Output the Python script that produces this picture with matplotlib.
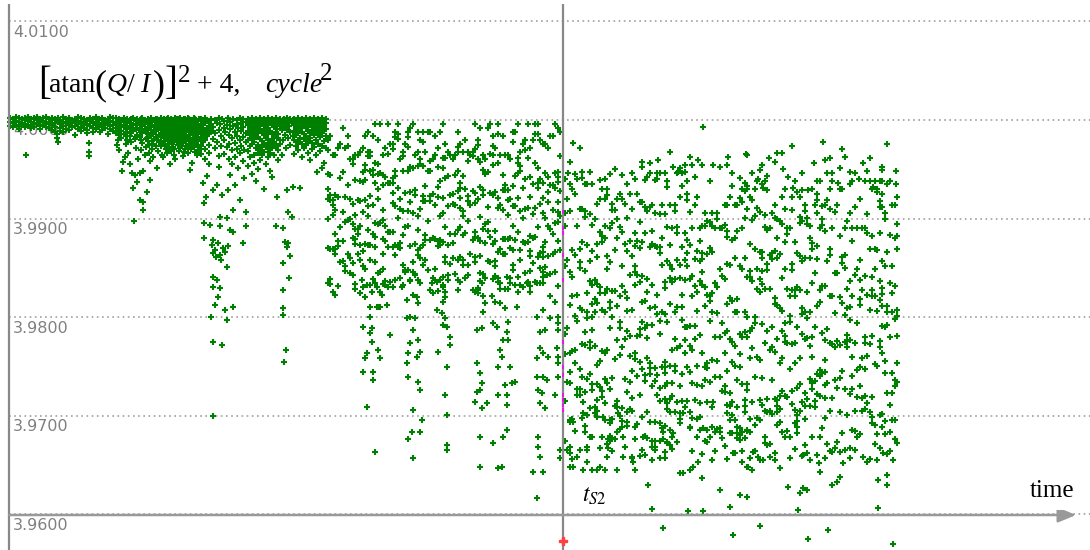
import matplotlib.pyplot as plt
from matplotlib.patches import Rectangle

plt.rcParams['mathtext.fontset'] = 'stix'

# one line per time step "t: d d d", d = drop below 4.0000 in units of 1e-4
early_band = """
10: -2 2 6
13: -1 3 7
16: -3 1 5
19: -2 2 6 9
22: -1 3 5
25: 0 -2 4 7
26: 36
28: -3 1 6
31: -1 2 5 8
34: -2 3 7
37: 0 -3 4
40: -1 2 6 9
43: -2 1 5
46: -3 3 7
49: -1 2 4 8
52: -2 0 5 10
55: -1 3 7 12
57: 14 18
58: -2 1 22
60: 0 4 8 11
63: -3 2 6 12
66: -1 3 9
69: -2 1 5 10
72: 0 3 7
75: -1 2 6 15
78: -3 1 4 9
81: -2 3 7 11
84: -1 2 5 8
87: 0 4 10 13
89: 23 32 37
90: -2 1 6
93: -1 3 8 12
96: -3 2 5 9
99: -1 0 4 7
100: 12
102: -2 3 6 10
105: 0 2 5 8
108: -1 4 14
110: -3 1 6 9
113: -2 2 5 11
118: 1 7 12 20
126: 2 8 16 24
131: -1 6 13 22
136: 1 9 17 28
141: -1 5 12 20 30
146: 2 11 19 27
149: 0 8 25 33
152: 1 13 21 29
156: -1 5 11 17 26
158: 2 9 20 31
162: 0 7 14 23 35
165: 2 11 18 25
167: -1 8 16 33
169: 1 10 20 27
172: 0 5 12 24
174: 3 9 17 29 36
177: -1 7 15 22
179: 1 11 18 31
181: 0 6 13 26
183: 2 9 16 22 37
185: -1 5 12 20 29
187: 1 8 17 27
190: 0 4 11 18 25
193: 2 9 15 23
195: -1 7 13 21 32
198: 1 4 10 17 26
"""

first_dips = """
116: -2 3 8 13
117: 25
119: -1 4 9 15 30
121: 0 5 11 18
122: 52
123: 43
124: -2 2 7 14
125: 38
127: -1 6 12 20
128: 33
130: 0 3 9 16 45
132: 54
133: -2 5 11 69
134: 102
135: 56 19
137: -1 4 8 15 63
138: 40
140: 2 10 17 54 81
142: -2 6 13 23
143: 52 83 91
145: 0 4 9 35
147: 73 18
148: -1 7 14 21
150: 61 42 3
151: -2 5 10 16
153: 38 24
154: 0 7 12 19
157: -1 3 9 49
159: 1 6 15 22
161: -2 4 10 17 26
163: 38 0
164: -1 6 13 21
166: 1 3 9 15 29
168: -2 5 12 19 24
170: 45 0
171: -1 7 14 22 31
173: 2 4 10 18 27
175: 40 -2
176: 0 6 13 20
178: -1 3 9 16 25
180: -2 8 11 19 28
182: 1 5 14 23
184: -1 4 10 17 32
186: 0 7 12 21 26
188: 33 -2
189: -1 3 9 15 24
190: 51
191: 2 6 13 20 29
192: 44
194: -2 5 11 18 27
196: 0 4 8 16 22
197: 25 35
199: -1 6 12 19 30
201: -1 5 11 18 26 34
203: 64 1 8 15 22
204: 84 104 120
205: -2 3 12 20 29 40
206: 78
207: 57 0 9 16
209: 2 6 14 25 33 45
210: 106
211: 200 -1 4 11
212: 127
213: 122 71 135 159 169 225 300 7 19
215: 132 188 0 13 28
216: 139
217: 162 66 3 22
218: 125 180
219: -2 10 37 48
220: 108 137 170 98 4
221: 142 16 26
222: 76 228 -1
223: 130
224: 1 8 20 34
225: 134 193 12
227: 99 149 203 5 27
228: 128 71 -2
229: 15 24 40
230: 112 56 2 9
232: 18 30 45
233: 114 91 190 -1 6
235: 66 12 23 38
237: 0 4 16 29
238: 49 8
240: 81 -2 20 33
241: 3 11 26
243: 125 -1 7 17 42
244: 59 30
246: 108 93 2 13 22
248: -1 5 12 20 31 47
250: 1 8 15 26 38
252: -2 3 10 18 24 55
254: 0 6 14 22 35 44
256: -1 4 11 17 28 62
258: 2 7 13 25 33 50
260: -2 5 9 19 30 41
262: 0 3 12 21 27 36
264: -1 6 15 23 32 70
266: 1 4 10 18 26 45
268: -2 8 14 20 29 38
270: 0 3 11 24 33 52
272: -1 5 13 19 28 58
274: 2 7 16 22 35
276: 108 -2 4 12 26
277: 78 9 18
278: 0 14 30 41
280: -1 6 20 24
282: 3 10 36
283: 110 145 172 191 198 0 8 20
284: 245 -1
285: 124 4 15
286: 233 28
287: 71 129 -2 10
288: 93 125 2 18
289: 160 6
290: 138 -1 12 25
292: 98 3
293: 68 0 16
294: -1 5 11 20 34
296: 1 3 9 15 26
298: -2 6 13 22 30
300: 69 0 4 10 18
302: -1 7 12 24 38
304: 2 5 14 19 28
306: -2 3 8 16 25
308: 0 6 11 21 33
310: 41 -1 4 13 18
312: 1 7 10 23 29
314: -2 3 9 15 27
316: 0 5 12 20 35
317: 53
318: -1 6 14 24
320: 2 4 10 17 31
322: 49 -2 8 13 26
324: 0 5 11 21 44
326: -1 3 9 16 28
"""

mid_cloud = """
328: 20 30 55 70 80 100 130 165
330: 16 56 76 81 131 161 166
333: 36 81 86 96 131
335: 36 76 91 116 131 136
338: 28 78 123 128 168
340: 24 59 109 144
343: 8 53 93 123 143
345: 28 78 103 148 153
348: 16 26 66 101 136
350: 40 80 100 140
353: 40 45 85 105 120 145
355: 36 61 96 111 121 126 166 171
358: 36 81 111 116 136
360: 32 62 82 107 127 142
363: 28 53 63 93 133 148
365: 16 46 51 61 81 126 151
368: 12 32 37 87 97 112 127
370: 32 37 52 77 127 142 167
373: 16 51 56 86 116 161
375: 4 44 64 104 119 129 144
378: 20 45 55 70 80 105 155
380: 4 54 104 154 174
383: 36 56 66 91 101 121 136 151 166
385: 28 58 108 123 163
388: 4 34 64 114 129 169
390: 24 64 114 164
393: 24 29 59 64 74 84 114 129 169
395: 12 17 52 57 87 127 137 162
398: 4 14 19 69 99 129
400: 40 80 90 125 130 160
403: 32 37 52 92 117 147 167
405: 24 74 109 154
408: 12 17 27 52 92 107 152
410: 8 48 73 83 128 163
413: 4 49 94 144 154
415: 36 71 76 126 156
418: 12 32 47 97 112 132 137 162
420: 20 40 45 90 130 140 165
423: 12 22 47 77 82 127 147
425: 32 67 82 117 122 142
428: 12 52 102 152
430: 12 42 52 77 82 122 172
433: 40 75 120 160 175
435: 16 36 86 121 151
438: 28 48 68 78 123 128 173
440: 12 62 97 122 127 162
443: 4 39 49 79 94 124 169
445: 24 39 59 109 139 144 174
448: 32 57 87 127 157 162
450: 36 76 116 146
453: 40 75 85 125 140
455: 36 56 86 116 156
458: 12 27 32 52 72 112 142 162 172
460: 24 64 69 79 89 109 139 164
463: 32 57 92 97 117 142 147
465: 20 70 115 160
468: 32 42 77 82 102 147
470: 36 86 136
473: 32 37 72 122 172
475: 4 29 74 84 114 119 139 144 174
478: 20 25 40 80 120 170 175
480: 8 43 68 98 123 138 163
483: 36 51 71 76 111 156
485: 40 55 105 125 160
488: 8 53 88 103 113 143
490: 4 34 74 119 144
493: 16 26 36 46 76 126 161
495: 28 73 113 123 143 148 158
498: 4 14 44 79 89 134 164
500: 36 86 131 171
503: 16 56 71 91 121 136
505: 36 66 71 121 136 171
508: 36 71 81 96 121 171
510: 40 80 120 130 160
513: 12 22 67 87 107 132 147 152
515: 12 57 87 122 167
518: 4 39 44 54 79 114 159 174
520: 32 47 52 92 132 142 167
523: 24 69 99 124 169
525: 20 30 60 90 125 155
528: 4 39 89 124 164
530: 28 58 78 118 133 138 153 168
533: 20 65 95 120 145
535: 4 14 44 89 119 164
538: 4 14 49 64 69 109 139
540: 20 60 85 135 150 165
543: 24 64 79 94 129 134 139 154 159
545: 24 54 99 124 149
548: 28 58 73 83 108 138
550: 16 66 111 156
553: 16 66 91 116 136
555: 4 54 69 104 134
558: 8 53 58 63 83 93 103 123 168
560: 12 37 72 97 132
"""

# streaks reaching down below the middle cloud
mid_deep = """
333: 174
335: 177
350: 155
353: 157
360: 175
362: 162
363: 169 210 256
365: 180 241
367: 167 236 291
370: 190 200 216
372: 174 211 225
373: 256 264
375: 165 337
377: 169 190
378: 190 233
380: 241 190
382: 177
385: 167
387: 188
390: 218
402: 169
405: 152
407: 183 201 246
408: 236 261 324
410: 162 200 226
412: 316
413: 177 213 294 343
415: 157 201
417: 180 240
418: 186 223 266
420: 235 274 316
422: 304
432: 165
435: 162
437: 164 193
438: 235
442: 196
443: 159 167 185 208
445: 180 201 279
447: 210 251 299 330 335
450: 220 228
468: 157
475: 286
477: 213 276 246
478: 172
480: 155 257 274 322 352
482: 165 211 267 292
483: 179 195
485: 186
487: 287
492: 179
493: 206 328
495: 185
497: 210
498: 160 250 279 353
500: 165 186 233
502: 240 352
503: 223 322
505: 191 269
507: 159 215 279 289 314
508: 205 223
510: 165 250
512: 267
515: 266
517: 190
527: 165
530: 174
533: 357
537: 165 200 241 261 383
538: 274 322 332
540: 215 231 287 342
542: 277
543: 165 193 236 261 357
545: 213 292
547: 157 264
548: 240
550: 179 201
555: 154 185 279
557: 231
558: 261 246 240 213 206 200
560: 335 343
"""

late_noise = """
565: 60 94 107 148 217 237 285 326
567: 80 142 211 266 335
570: 65 92 154 188 236 256 304 338
572: 70 132 159 179 234 303 344
575: 55 75 137 199 233 246 315
577: 60 108 177 204 273 342
580: 90 131 144 150 191 253 273 279
582: 90 124 193 227 261 302
585: 65 92 98 153 215 228 276 310 316
587: 65 127 175 195 201 263 332
590: 95 143 163 225 231 258 292
592: 65 106 133 167 187 200 213 268 274 322
595: 100 162 182 195 229 291 297
597: 85 126 139 166 186 248 268 295 301
600: 80 114 169 175 244 271 333
602: 70 118 124 193 234 275 281 322
605: 60 80 107 120 175 195 236 263 304
607: 70 76 138 151 171 233 267 329 342
610: 55 110 144 185 191 211 273 307 320 326
612: 85 91 104 173 200 262 303 323 336
615: 50 91 132 173 242 290 324
617: 80 100 120 189 223 285
620: 75 109 178 205 211 238 300 313
622: 80 114 148 168 230 292 305 311
625: 85 126 174 222 263 332
627: 65 99 133 181 194 214 276 310
630: 75 123 157 219 239 266 293
632: 90 138 193 255 282 295 343
635: 60 115 128 148 154 167 236 242 311 324
637: 75 123 157 219 260 308
640: 83 103 130 164 212 218 245 279 341
642: 83 124 158 185 205 253 301 335
645: 61 88 115 184 211 259 265 320 340
647: 58 92 161 174 208 221 241 296 323
650: 54 88 129 191 246 252 258 306
652: 86 113 126 167 208 270 332 345
655: 94 128 190 252 265 306 326 332
657: 54 60 129 177 197 259 279
660: 54 95 129 135 204 217 272 285 326
662: 86 120 147 195 250 312
665: 54 95 164 170 197 245 251 257 270 283 310 337 343
667: 62 68 109 143 205 267 287 293 327
670: 86 127 147 160 187 249 283 296 330
672: 110 151 164 233 267 280 321 334
675: 86 92 161 195 222 249 255 296
677: 54 109 115 142 190 231 286 327
680: 78 147 160 229 270 297 303
682: 54 67 129 177 190 203 258 285
685: 46 115 142 162 210 223 236 291
687: 62 75 81 122 135 148 210 251 285
690: 38 93 127 161 209 229 256 311
692: 110 158 178 233 267 336
695: 86 141 168 209 222 284
697: 78 133 174 194 249 269 303
700: 110 123 143 163 218 287 314
702: 46 108 135 141 154 167 236 270 339
705: 94 107 169 189 251 264 326
707: 102 136 177 246 252 286 327
710: 62 103 130 178 184 204 266 321
712: 94 107 134 175 195 243 291 311 345
715: 110 165 220 261 316 336
717: 94 100 169 196 244 313
720: 110 151 220 261 316
722: 110 158 206 275 323
725: 86 106 161 216 236 270 276 331
727: 86 113 119 146 187 214 255 289 344
730: 78 147 181 222 277 290 317
732: 54 67 122 184 225 245 286 299
735: 86 120 140 195 229 249 304 338
737: 86 113 182 195 264 291 311 317 323
740: 79 148 217 237 250 312 325
742: 70 83 110 151 220 268 316 336
745: 72 99 140 195 215 284 290 296 323
747: 70 90 159 200 220 268 274 315
750: 78 126 153 159 214 241 303 316 343
752: 54 81 101 163 211 231 286
755: 70 97 131 200 206 261 309 336
757: 62 89 151 171 240 302
760: 93 134 161 174 243 284 304 345
762: 46 65 134 140 153 166 207 262 289
765: 62 96 109 171 226 295 322 328
767: 71 112 146 152 214 283 296 330
770: 110 137 171 233 295 329 342
772: 94 135 141 210 230 264 298
775: 86 99 133 181 187 235 283 345
777: 100 120 140 188 222 284 290 296 309
780: 102 136 191 246 280 293 306
782: 78 105 160 194 214 241 275 316
785: 70 90 124 151 206 219 225 280 321
787: 110 116 171 226 281 315
790: 110 179 199 205 253 322
792: 78 91 146 152 172 227 275 288
795: 62 124 172 178 226 246 294 307 334
797: 73 135 169 210 272 299 305 311 317
800: 78 98 104 138 172 241 268 295
802: 54 102 143 191 197 217 286 341
805: 86 92 140 195 222 277 290 303 330
807: 99 105 174 201 221 283 338
810: 107 120 140 195 229 263 290 345
812: 70 125 131 165 220 240 267 273 321
815: 86 155 210 265 285 291
817: 62 75 81 94 128 141 189 258 278 340
820: 62 110 172 185 254 260 280 321
822: 87 100 106 168 216 257 312
825: 86 113 168 223 243 256 269 282 302 343
827: 54 81 143 212 267 329
830: 70 90 131 137 178 226 295 336
832: 62 110 179 227 282 337
835: 93 155 196 230 264 333
837: 86 155 224 272 327
840: 70 118 180 228 262 296 337
842: 70 139 145 186 255 317
845: 110 137 150 198 225 273 335
847: 102 171 191 218 224 230 299
850: 94 163 190 203 223 278 333
852: 62 110 123 178 240 260 273 314
855: 54 88 157 226 295 315 335
857: 110 151 206 254 281 322
860: 80 142 162 182 188 250 270 318
862: 110 172 241 282 295
865: 62 110 158 220 226 253 280 293
867: 95 115 177 239 287
870: 62 131 193 227 296 344
872: 70 118 159 172 178 219 281 301 307
875: 62 131 151 178 247 309 329
877: 70 132 194 249 318 345
880: 62 82 88 115 163 183 224 230 299 333
882: 62 75 88 143 170 176 189 209 236 298 311
885: 94 100 148 210 244 257 305 318
887: 65 134 189 195 208 277 339
890: 62 117 165 220 289 316 336
892: 86 148 175 195 257 277 304
895: 86 120 168 202 264 270 304 324
897: 78 105 118 131 193 199 219 246 266 328
"""

# isolated points at the upper and lower edge of the late cloud
late_edges = """
568: 54
570: 43 267 306 332 352
573: 23 306 352
577: 279
580: 28 335
582: 53 59
583: 286 297 355
587: 335 347 299
590: 53 321
592: 355
597: 284 355
600: 61 333 352
603: 301 395
605: 287 355
608: 333 324
610: 304
617: 355 291 316
618: 297
622: 56
623: 321 342
625: 396
627: 296 306
632: 54 342
633: 347
635: 355
642: 43 48
643: 321
648: 370
650: 44
652: 395 326
655: 61 335
658: 41
660: 343 307
663: 324 316 414
667: 328
670: 32 314
673: 48 317
678: 53
680: 49 307 358
683: 297 358
685: 53
688: 397
690: 296 312 355
692: 46 302
693: 352
695: 58
697: 321
698: 41 347
700: 301
702: 363
703: 7 312 397
707: 314
713: 46 286
720: 48 312 375
727: 46 297
728: 38
730: 304 392
732: 317
733: 338 421
740: 59 319 380
742: 347
745: 64
746: 34
747: 35 67 314 382 352
748: 352
752: 355
753: 337
758: 60 342
760: 51 412
763: 69 345
767: 57
769: 39
775: 43 338
777: 33
780: 353
782: 33
783: 50
788: 58 372
790: 343
792: 26
793: 69
798: 396
800: 378
802: 71
803: 373 340
807: 375
808: 71 425
814: 44
819: 348
820: 357
823: 22
825: 41
828: 416
830: 39
832: 54 370
837: 367
838: 64
840: 49 362
842: 29
843: 348
845: 38
850: 53 65 343
859: 60
863: 44 342
867: 52 347
870: 39
873: 68
877: 73
878: 365 394
882: 48 51
883: 338
887: 24 360 370
893: 345 430
896: 52 65
"""

# short magenta marks sitting on the t_S2 line
mark_drops = [93, 110, 115, 137, 162, 225, 250, 259, 279, 284, 289, 294]
red_value = 3.9573

grid_values = [4.01, 4.00, 3.99, 3.98, 3.97, 3.96]
grid_labels = ['4.0100', '4.0000', '3.9900', '3.9800', '3.9700', '3.9600']
t_s2 = 563


def unpack(block):
    ts, vals = [], []
    for line in block.strip().splitlines():
        t, drops = line.split(':')
        for d in drops.split():
            ts.append(float(t))
            vals.append(4.0 - float(d) * 1e-4)
    return ts, vals


def row(py):
    # pixel row of the reference -> value, only used for placing decorations
    return 4.0 - (py - 120) / 9860.0


fig = plt.figure(figsize=(10.9, 5.5), dpi=100)
ax = fig.add_axes([0, 0, 1, 1])
ax.set_xlim(0, 1090)
ax.set_ylim(row(550), row(0))
ax.axis('off')

for v, lab in zip(grid_values, grid_labels):
    ax.hlines(v, 9, 1090, color='#a0a0a0', lw=1.2, linestyles=(0, (1, 2.1)), zorder=1)
    ax.text(13, v - 0.00035, lab, ha='left', va='top', fontsize=11.5,
            color='#808080', family='DejaVu Sans', zorder=1)

for block in [early_band, first_dips, mid_cloud, mid_deep, late_noise, late_edges]:
    ts, vals = unpack(block)
    ax.plot(ts, vals, '+', color='#008000', ms=4.6, mew=1.5, zorder=3)

# axes: left line, t_S2 line, time arrow
ax.vlines(9, row(550), row(4), color='#888888', lw=1.6, zorder=4)
ax.vlines(t_s2, row(550), row(4), color='#888888', lw=1.6, zorder=4)
ax.annotate('', xy=(1076, row(515)), xytext=(9, row(515)),
            arrowprops=dict(arrowstyle='-|>,head_length=0.6,head_width=0.25',
                            color='#999999', lw=1.8, mutation_scale=18,
                            shrinkA=0, shrinkB=0), zorder=4)

ax.plot([t_s2] * len(mark_drops), [4.0 - d * 1e-4 for d in mark_drops], '|',
        color='#ff00ff', ms=3, mew=1.2, zorder=5)
ax.plot([t_s2], [red_value], 'P', color='#ff4040', ms=6, zorder=6)

# white boxes behind the axis labels
ax.add_patch(Rectangle((580, row(513)), 63, row(483) - row(513),
                       facecolor='white', edgecolor='none', zorder=5))
ax.add_patch(Rectangle((1030, row(510)), 57, row(473) - row(510),
                       facecolor='white', edgecolor='none', zorder=5))

ax.text(582, row(502), r'$t_{\mathit{S2}}$', fontsize=17, ha='left', va='baseline', zorder=6)
ax.text(1030, row(497), 'time', fontsize=18, family='Liberation Serif',
        ha='left', va='baseline', zorder=6)

# formula written piece by piece: tall brackets, large superscripts
serif = 'Liberation Serif'
pieces = [
    (38, 94, '[', 28, 'normal'),
    (49, 92, 'atan', 20, 'normal'),
    (94, 94, '(', 26, 'normal'),
    (106, 92, 'Q', 20, 'italic'),
    (127, 92, '/', 20, 'normal'),
    (140, 92, 'I', 20, 'italic'),
    (153, 94, ')', 26, 'normal'),
    (165, 94, ']', 28, 'normal'),
    (178, 82, '2', 18, 'normal'),
    (197, 92, '+ 4,', 20, 'normal'),
    (265, 92, 'cycle', 20, 'italic'),
    (320, 80, '2', 18, 'normal'),
]
for px, py, s, fs, st in pieces:
    ax.text(px, row(py), s, fontsize=fs, family=serif, style=st,
            ha='left', va='baseline', zorder=6)

plt.savefig('out.png', dpi=100)
